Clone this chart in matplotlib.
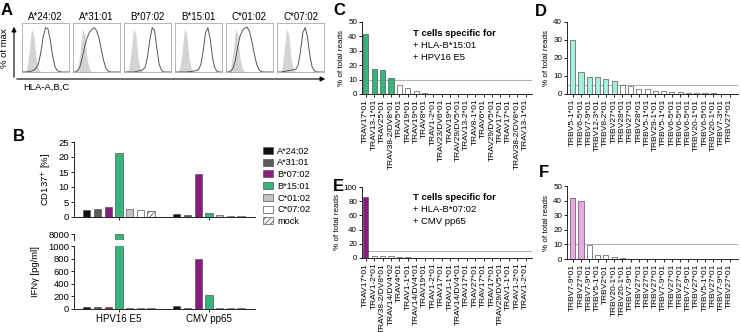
import numpy as np
import matplotlib as mpl
import matplotlib.pyplot as plt
from matplotlib.patches import Patch, FancyArrowPatch

plt.rcParams['font.family'] = ['Liberation Sans', 'DejaVu Sans']
plt.rcParams['hatch.linewidth'] = 0.6
plt.rcParams['axes.linewidth'] = 0.6
plt.rcParams['xtick.major.width'] = 0.6
plt.rcParams['ytick.major.width'] = 0.6

W, H = 741, 332


def fx(px):
    return px / W


def fy(py):
    return 1 - py / H


def box(x0, y0, x1, y1):
    # pixel box -> figure fraction rect
    return [fx(x0), fy(y1), (x1 - x0) / W, (y1 - y0) / H]


##
## Data
##
alleles = ['A*24:02', 'A*31:01', 'B*07:02', 'B*15:01', 'C*01:02', 'C*07:02']

# flow histograms (fraction of max) on a shared 0..1 log-fluorescence grid
hist_x = [0, .05, .1, .15, .2, .25, .3, .35, .4, .45, .5, .55, .6, .65, .7, .75, .8, .85, .9, .95, 1]
isotype = [0, .01, .06, .42, .93, .82, .28, .06, .01, 0, 0, 0, 0, 0, 0, 0, 0, 0, 0, 0, 0]
stained = {
    'A*24:02': [0, 0, 0, .01, .02, .04, .08, .18, .42, .75, .96, .94, .70, .36, .12, .03, .01, 0, 0, 0, 0],
    'A*31:01': [0, 0, .03, .12, .32, .56, .74, .86, .92, .96, .90, .74, .50, .25, .08, .02, 0, 0, 0, 0, 0],
    'B*07:02': [0, 0, 0, 0, 0, .01, .02, .03, .05, .10, .32, .70, .96, .90, .50, .16, .03, 0, 0, 0, 0],
    'B*15:01': [0, 0, 0, 0, 0, 0, .01, .01, .02, .03, .05, .16, .46, .85, .96, .70, .30, .08, .01, 0, 0],
    'C*01:02': [0, 0, .02, .08, .25, .55, .78, .90, .95, .97, .88, .66, .40, .18, .05, .01, 0, 0, 0, 0, 0],
    'C*07:02': [0, 0, 0, .01, .02, .03, .04, .05, .06, .15, .45, .85, .96, .75, .35, .10, .02, 0, 0, 0, 0],
}

groups = ['HPV16 E5', 'CMV pp65']
b_labels = alleles + ['mock']
cd137_hpv = [2.2, 2.8, 3.3, 21.3, 2.6, 2.3, 2.1]
cd137_cmv = [0.9, 0.8, 14.3, 1.3, 0.6, 0.4, 0.5]
ifng_hpv = [30, 30, 30, 8000, 20, 20, 20]
ifng_cmv = [40, 15, 800, 220, 10, 8, 15]

c_labels = ['TRAV17*01', 'TRAV13-1*01', 'TRAV25*01', 'TRAV38-2/DV8*01', 'TRAV5*01', 'TRAV19*01',
            'TRAV19*01', 'TRAV8*01', 'TRAV1-2*01', 'TRAV23/DV6*01', 'TRAV19*01', 'TRAV29/DV5*01',
            'TRAV13-2*01', 'TRAV8-1*01', 'TRAV6*01', 'TRAV29/DV5*01', 'TRAV17*01', 'TRAV17*01',
            'TRAV38-2/DV8*01', 'TRAV13-1*01']
c_values = [41.5, 17.5, 16.5, 11, 6, 4.2, 2.3, 0.8, 0.3, 0.15, 0.1, 0.08, 0.06, 0.05, 0.05,
            0.04, 0.03, 0.03, 0.02, 0.02]

d_labels = ['TRBV5-1*01', 'TRBV6-5*01', 'TRBV7-9*01', 'TRBV12-3*01', 'TRBV8-2*01', 'TRBV27*01',
            'TRBV28*01', 'TRBV27*01', 'TRBV28*01', 'TRBV5-1*01', 'TRBV29-1*01', 'TRBV5-1*01',
            'TRBV6-5*01', 'TRBV6-5*01', 'TRBV6-5*01', 'TRBV20-1*01', 'TRBV6-5*01', 'TRBV20-1*01',
            'TRBV7-3*01', 'TRBV27*01']
d_values = [30, 12.5, 9.4, 9.4, 8.3, 7.0, 4.8, 4.7, 2.8, 2.7, 1.8, 1.7, 1.1, 1.0, 0.5, 0.4,
            0.3, 0.3, 0.2, 0.1]

e_labels = ['TRAV17*01', 'TRAV1-2*01', 'TRAV38-2/DV8*01', 'TRAV14/DV4*02', 'TRAV4*01', 'TRAV1-1*01',
            'TRAV14/DV4*01', 'TRAV19*01', 'TRAV1-2*01', 'TRAV17*01', 'TRAV1-1*01', 'TRAV14/DV4*01',
            'TRAV17*01', 'TRAV27*01', 'TRAV17*01', 'TRAV17*01', 'TRAV29/DV5*01', 'TRAV1-1*01',
            'TRAV1-2*01', 'TRAV1-2*01']
e_values = [86, 3.5, 2.5, 2.5, 1.3, 0.9, 0.6, 0.5, 0.4, 0.3, 0.25, 0.2, 0.2, 0.15, 0.1, 0.1,
            0.1, 0.08, 0.06, 0.05]

f_labels = ['TRBV7-9*01', 'TRBV27*01', 'TRBV7-9*01', 'TRBV5-1*01', 'TRBV2*01', 'TRBV20-1*01',
            'TRBV20-1*01', 'TRBV7-9*01', 'TRBV27*01', 'TRBV27*01', 'TRBV27*01', 'TRBV7-9*01',
            'TRBV27*01', 'TRBV27*01', 'TRBV7-9*01', 'TRBV27*01', 'TRBV5-1*01', 'TRBV27*01',
            'TRBV7-9*01', 'TRBV27*01']
f_values = [42, 40, 9.5, 2.6, 2.8, 1.5, 0.8, 0.3, 0.2, 0.15, 0.1, 0.1, 0.08, 0.08, 0.06,
            0.05, 0.05, 0.04, 0.04, 0.03]


##
## Styles
##
green = '#35b57b'
purple = '#8a1b80'
aqua = '#a6eedd'
pink = '#eaa8e2'
b_colors = ['#111111', '#5a5a5a', purple, green, '#c4c4c4', 'white', 'white']
b_hatch = [None] * 6 + ['//////']
edge = '#555555'

fig = plt.figure(figsize=(W / 100, H / 100), dpi=100)


##
## A: flow histograms
##
for i, name in enumerate(alleles):
    x0 = 22 + 51 * i
    ax = fig.add_axes(box(x0, 23, x0 + 47, 72))
    ax.fill_between(hist_x, isotype, color='#d4d4d4', lw=0)
    ax.plot(hist_x, stained[name], color='#555555', lw=0.7)
    ax.plot(hist_x, [0.005] * len(hist_x), color='#555555', lw=0.6)
    ax.set_xlim(0, 1)
    ax.set_ylim(0, 1.06)
    ax.set_xticks([])
    ax.set_yticks([])
    for sp in ax.spines.values():
        sp.set_color('#999999')
        sp.set_linewidth(0.5)
    ax.set_title(name, fontsize=7, pad=2)

fig.add_artist(FancyArrowPatch((fx(14), fy(80)), (fx(14), fy(24)), transform=fig.transFigure,
                               arrowstyle='-|>', mutation_scale=7, lw=0.8, color='k'))
fig.add_artist(FancyArrowPatch((fx(14), fy(79)), (fx(328), fy(79)), transform=fig.transFigure,
                               arrowstyle='-|>', mutation_scale=7, lw=0.8, color='k'))
fig.text(fx(5), fy(48), '% of max', rotation=90, ha='center', va='center', fontsize=6.8)
fig.text(fx(23), fy(87), 'HLA-A,B,C', ha='left', va='center', fontsize=6.8)


##
## B: CD137 and IFNg
##
pos_hpv = np.arange(7)
pos_cmv = np.arange(7) + 8.4
xlim_b = (-1.2, 15.7)


def b_bars(ax, vals_hpv, vals_cmv):
    for pos, vals in ((pos_hpv, vals_hpv), (pos_cmv, vals_cmv)):
        for p, v, c, h in zip(pos, vals, b_colors, b_hatch):
            ax.bar(p, v, width=0.68, color=c, edgecolor=edge, lw=0.5, hatch=h)
    ax.set_xlim(*xlim_b)
    ax.spines[['top', 'right']].set_visible(False)
    ax.tick_params(labelsize=6.8, length=2, pad=1.5)


ax_b1 = fig.add_axes(box(74, 142, 255, 217))
b_bars(ax_b1, cd137_hpv, cd137_cmv)
ax_b1.set_ylim(0, 25)
ax_b1.set_yticks([0, 5, 10, 15, 20, 25])
ax_b1.set_xticks([3, 11.4])
ax_b1.set_xticklabels([])
ax_b1.set_ylabel('CD137$^{+}$ [%]', fontsize=6.8, labelpad=3)

ax_b3 = fig.add_axes(box(74, 246, 255, 309))
b_bars(ax_b3, ifng_hpv, ifng_cmv)
ax_b3.set_ylim(0, 1000)
ax_b3.set_yticks([0, 200, 400, 600, 800, 1000])
ax_b3.set_xticks([3, 11.4])
ax_b3.set_xticklabels(groups, fontsize=7)
ax_b3.set_ylabel('IFN\u03b3 [pg/ml]', fontsize=6.8, labelpad=3)
ax_b3.yaxis.set_label_coords(-0.19, 0.6)

ax_b2 = fig.add_axes(box(74, 234, 255, 240))
b_bars(ax_b2, ifng_hpv, ifng_cmv)
ax_b2.set_ylim(7000, 8000)
ax_b2.set_yticks([8000])
ax_b2.set_xticks([])
ax_b2.spines['bottom'].set_visible(False)

handles = [Patch(facecolor=c, edgecolor=edge, lw=0.5, hatch=h) for c, h in zip(b_colors, b_hatch)]
fig.legend(handles, b_labels, loc='upper left', bbox_to_anchor=(fx(258), fy(142)),
           frameon=False, fontsize=6.6, handlelength=1.1, handleheight=0.8,
           handletextpad=0.5, labelspacing=0.3, borderpad=0)


##
## C-F: TCR repertoire
##
def tcr_panel(rect, labels, values, thr, fill, ymax, ystep, xlim):
    ax = fig.add_axes(rect)
    x = np.arange(len(values))
    colors = [fill if v > thr else 'white' for v in values]
    ax.axhline(thr, color='#b5b5b5', lw=0.8, zorder=0)
    ax.bar(x, values, width=0.62, color=colors, edgecolor=edge, lw=0.5, zorder=2)
    ax.set_xlim(*xlim)
    ax.set_ylim(0, ymax)
    ax.set_yticks(np.arange(0, ymax + 1, ystep))
    ax.set_xticks(x)
    ax.set_xticklabels(labels, rotation=90, fontsize=6.0)
    ax.tick_params(axis='y', labelsize=5.8, length=2, pad=1.5)
    ax.tick_params(axis='x', length=2, pad=1.5)
    ax.spines[['top', 'right']].set_visible(False)
    ax.set_ylabel('% of total reads', fontsize=5.8, labelpad=2)
    return ax


tcr_panel(box(362, 22, 532, 94), c_labels, c_values, 10, green, 50, 10, (-0.45, 19.75))
tcr_panel(box(567, 22, 738, 94), d_labels, d_values, 5, aqua, 40, 10, (-0.7, 20.0))
tcr_panel(box(362, 187, 532, 258), e_labels, e_values, 10, purple, 100, 20, (-0.45, 19.75))
tcr_panel(box(567, 186, 738, 259), f_labels, f_values, 10, pink, 50, 10, (-0.7, 20.0))

for (px, py), lines in (((413, 33), ['+ HLA-B*15:01', '+ HPV16 E5']),
                        ((413, 197), ['+ HLA-B*07:02', '+ CMV pp65'])):
    fig.text(fx(px), fy(py), 'T cells specific for', fontsize=6.8, fontweight='bold', va='center')
    for k, line in enumerate(lines):
        fig.text(fx(px), fy(py + 12 * (k + 1)), line, fontsize=6.8, va='center')


##
## Panel letters
##
for letter, px, py in (('A', 1, 3), ('B', 13, 129), ('C', 333, 3), ('D', 535, 4),
                       ('E', 333, 179), ('F', 539, 165)):
    fig.text(fx(px), fy(py), letter, fontsize=12, fontweight='bold', va='top', ha='left')

fig.savefig('out.png', dpi=100)
